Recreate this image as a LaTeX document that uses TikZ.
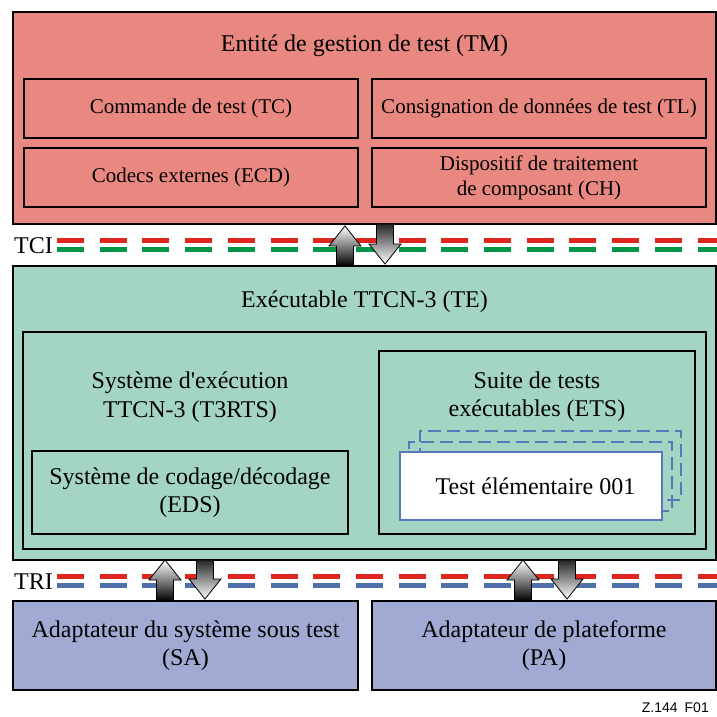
\documentclass[tikz,border=0pt]{standalone}
\usepackage{fontspec}
\setmainfont{Liberation Serif}
\newfontfamily\sanslab{Liberation Sans}
\definecolor{tmfill}{RGB}{232,136,128}
\definecolor{tefill}{RGB}{163,213,194}
\definecolor{adfill}{RGB}{160,170,210}
\definecolor{dred}{RGB}{220,38,30}
\definecolor{dgreen}{RGB}{0,150,70}
\definecolor{dblue}{RGB}{80,112,172}
\definecolor{tcblue}{RGB}{88,120,186}
\newcommand\ftitle{\fontsize{24}{28.5}\selectfont}
\newcommand\fbody{\fontsize{21}{25}\selectfont}
\newcommand\arrowup[3]{%
  \shadedraw[arrowsty,top color=white,bottom color=black]
    (#1,#2) -- (#1+16,#2+20) -- (#1+8.5,#2+20) -- (#1+8.5,#3) -- (#1-8.5,#3)
    -- (#1-8.5,#2+20) -- (#1-16,#2+20) -- cycle;}
\newcommand\arrowdn[3]{%
  \shadedraw[arrowsty,top color=black!85,bottom color=white]
    (#1-8.5,#2) -- (#1+8.5,#2) -- (#1+8.5,#3-20) -- (#1+16,#3-20) -- (#1,#3)
    -- (#1-16,#3-20) -- (#1-8.5,#3-20) -- cycle;}
\tikzset{
  outerbox/.style={draw=black,line width=2.4pt,inner sep=0pt,outer sep=0pt},
  innerbox/.style={draw=black,line width=2pt,inner sep=0pt,outer sep=0pt,align=center,font=\fbody},
  midbox/.style={draw=black,line width=2pt,inner sep=0pt,outer sep=0pt,align=center,font=\ftitle},
  dashbox/.style={draw=tcblue,line width=2pt,dash pattern=on 13pt off 6pt,inner sep=0pt,outer sep=0pt},
  titletext/.style={font=\ftitle,align=center,inner sep=0pt},
  arrowsty/.style={draw=black,line width=0.8pt,line join=miter},
  redline/.style={draw=dred,line width=5pt,dash pattern=on 27pt off 15.7pt},
  greenline/.style={draw=dgreen,line width=5pt,dash pattern=on 27pt off 15.7pt},
  blueline/.style={draw=dblue,line width=5pt,dash pattern=on 27pt off 15.7pt}
}
\begin{document}
\begin{tikzpicture}[x=1pt,y=-1pt]
\useasboundingbox (0,0) rectangle (717,717);
\fill[white] (0,0) rectangle (717,717);

% Test management
\node[outerbox,fill=tmfill,minimum width=703pt,minimum height=212pt] (tm) at (364.5,118) {};
\node[titletext] (tmt) at (364.5,46) {Entité de gestion de test (TM)};
\node[innerbox,fill=tmfill,minimum width=334pt,minimum height=59pt] (tc) at (191,108.5) {Commande de test (TC)};
\node[innerbox,fill=tmfill,minimum width=334pt,minimum height=59pt] (ecd) at (191,177.5) {Codecs externes (ECD)};
\node[innerbox,fill=tmfill,minimum width=334pt,minimum height=59pt] (tl) at (539,108.5) {Consignation de données de test (TL)};
\node[innerbox,fill=tmfill,minimum width=334pt,minimum height=59pt] (ch) at (539,177.5) {Dispositif de traitement\\de composant (CH)};

% TTCN-3 executable
\node[outerbox,fill=tefill,minimum width=703pt,minimum height=294pt] (te) at (364.5,413) {};
\node[titletext] (tet) at (364.5,302) {Exécutable TTCN-3 (TE)};
\node[midbox,fill=tefill,minimum width=683pt,minimum height=217pt] (t3) at (364.5,440.5) {};
\node[titletext] (t3t) at (190,397) {Système d\textquotesingle exécution\\TTCN-3 (T3RTS)};
\node[midbox,fill=tefill,minimum width=316pt,minimum height=83pt] (eds) at (190,492.5) {Système de codage/décodage\\(EDS)};
\node[midbox,fill=tefill,minimum width=316pt,minimum height=183pt] (ets) at (537,442.5) {};
\node[titletext] (etst) at (537,396.5) {Suite de tests\\exécutables (ETS)};
\node[dashbox,minimum width=261pt,minimum height=69pt] (tcb) at (550.5,465.5) {};
\node[dashbox,minimum width=263pt,minimum height=69pt] (tcm) at (540.5,476.5) {};
\node[draw=tcblue,line width=2pt,fill=white,inner sep=0pt,outer sep=0pt,minimum width=262pt,minimum height=68pt,font=\ftitle] (tcf) at (531,486) {\hspace{9pt}Test élémentaire 001};

% Adapters
\node[outerbox,fill=adfill,minimum width=345pt,minimum height=89pt,align=center,font=\ftitle] (sa) at (185.5,645.5) {Adaptateur du système sous test\\(SA)};
\node[outerbox,fill=adfill,minimum width=344pt,minimum height=89pt,align=center,font=\ftitle] (pa) at (544,645.5) {Adaptateur de plateforme\\(PA)};

% Interfaces
\draw[redline] (57,240.5) -- (717,240.5);
\draw[greenline] (57,249.5) -- (717,249.5);
\node[titletext,anchor=west] (tci) at (14,245.5) {TCI};
\draw[redline] (57,576.5) -- (717,576.5);
\draw[blueline] (57,585.5) -- (717,585.5);
\node[titletext,anchor=west] (tri) at (14,581.5) {TRI};

% Block arrows
\arrowup{345}{226}{266}
\arrowdn{385}{224}{264}
\arrowup{165}{560}{601}
\arrowdn{205}{560}{599}
\arrowup{523}{560}{601}
\arrowdn{567}{560}{599}

\node[anchor=east,font=\sanslab\fontsize{14}{16}\selectfont,inner sep=0pt] (fig) at (709,708) {Z.144\hspace{7pt}F01};
\end{tikzpicture}
\end{document}
